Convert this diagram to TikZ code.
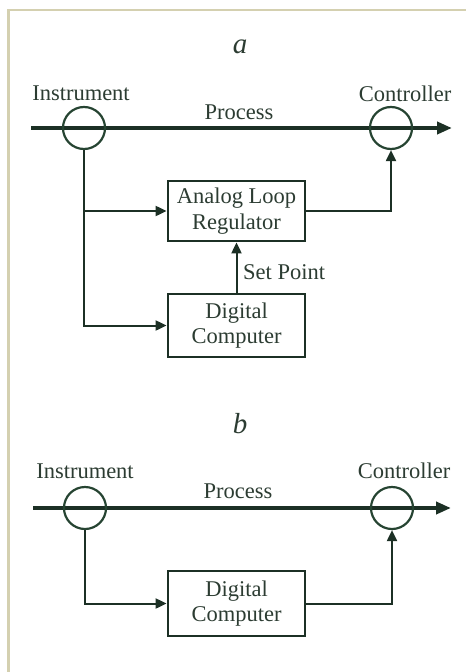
\documentclass[tikz,border=0pt]{standalone}
\usepackage{fontspec}
\setmainfont{Liberation Serif}
\usetikzlibrary{arrows.meta}
\definecolor{ink}{HTML}{1C3025}
\definecolor{ringink}{HTML}{264432}
\definecolor{txt}{HTML}{2C3C32}
\definecolor{framecol}{HTML}{D4D0B0}
\tikzset{
  lbl/.style={text=txt, font=\fontsize{22.5}{26}\selectfont, inner sep=0pt},
  panel/.style={text=txt, font=\fontsize{29}{31}\selectfont\itshape, inner sep=0pt},
  ring/.style={circle, draw=ringink, line width=2.2pt, minimum size=42pt, inner sep=0pt},
  blk/.style={draw=ink, line width=2.8pt, minimum width=137pt, text=txt,
    font=\fontsize{22.5}{25.5}\selectfont, align=center, inner sep=0pt},
  flow/.style={draw=ink, line width=2pt, -{Triangle[length=11pt,width=10pt]}},
  mainline/.style={draw=ink, line width=4.5pt, -{Triangle[length=15pt,width=12pt]}}
}
\begin{document}
\begin{tikzpicture}[x=1pt,y=-1pt]
\useasboundingbox (0,0) rectangle (466,672);
% page frame
\draw[framecol, line width=2.6pt] (8.5,672) -- (8.5,10) -- (466,10);

% ---------- diagram a ----------
\node[panel] (ta) at (240,47) {a};
\coordinate (pa0) at (31,128);
\coordinate (pa1) at (452,128);
\draw[mainline] (pa0) -- (pa1);
\node[ring] (inst1) at (84,128) {};
\node[ring] (ctrl1) at (391,128) {};
\node[lbl] (li1) at (81,93) {Instrument};
\node[lbl] (lc1) at (405,94) {Controller};
\node[lbl] (lp1) at (239,112) {Process};
\node[blk, minimum height=60pt] (alr) at (236.5,211) {Analog Loop\\Regulator};
\node[blk, minimum height=63pt] (dc1) at (236.5,325.5) {Digital\\Computer};
\coordinate (ba) at (84,211);
\draw[flow] (inst1.south) |- (dc1.west);
\draw[flow] (ba) -- (alr.west);
\draw[flow] (alr.east) -| (ctrl1.south);
\draw[flow] (dc1.north) -- (alr.south);
\node[lbl, anchor=west] (sp) at (243,272) {Set Point};

% ---------- diagram b ----------
\node[panel] (tb) at (240,424) {b};
\coordinate (pb0) at (33,508);
\coordinate (pb1) at (451,508);
\draw[mainline] (pb0) -- (pb1);
\node[ring] (inst2) at (85,508) {};
\node[ring] (ctrl2) at (392,508) {};
\node[lbl] (li2) at (85,471) {Instrument};
\node[lbl] (lc2) at (404,471) {Controller};
\node[lbl] (lp2) at (238,491) {Process};
\node[blk, minimum height=65pt] (dc2) at (236.5,603.5) {Digital\\Computer};
\draw[flow] (inst2.south) |- (dc2.west);
\draw[flow] (dc2.east) -| (ctrl2.south);
\end{tikzpicture}
\end{document}
